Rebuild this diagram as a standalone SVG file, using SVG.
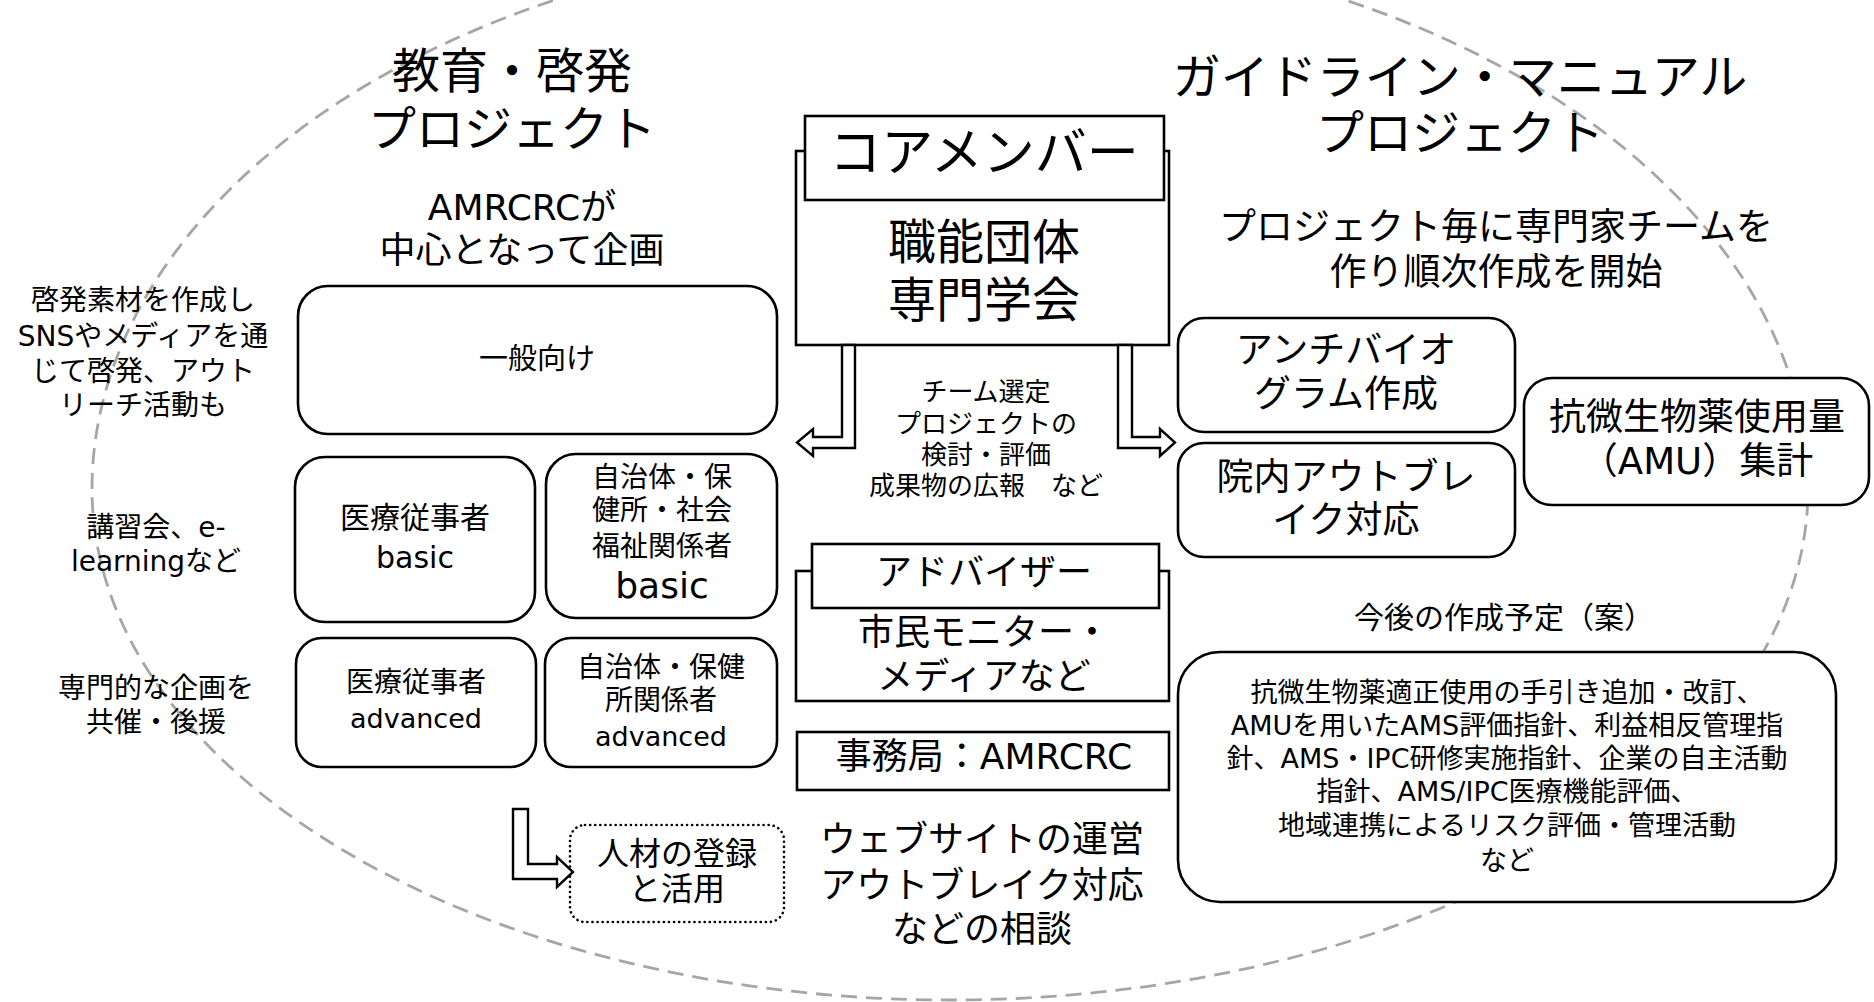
<svg xmlns="http://www.w3.org/2000/svg" width="1874" height="1002" viewBox="0 0 1874 1002">
<style>
text{font-family:"DejaVu Sans","Noto Sans CJK JP",sans-serif;fill:#000;text-anchor:middle}
.box{fill:#fff;stroke:#000;stroke-width:2.6}
.dot{fill:#fff;stroke:#000;stroke-width:2.6;stroke-dasharray:0.1 5;stroke-linecap:round}
.arr{fill:#fff;stroke:#000;stroke-width:2.4;stroke-linejoin:miter}
.ell{fill:none;stroke:#a6a6a6;stroke-width:2.8;stroke-dasharray:16 9}
.t48{font-size:48px}.t52{font-size:52px}.t37{font-size:37px}.t36{font-size:36px}.t32{font-size:32px}.t30{font-size:30px}.t29{font-size:29px}.t28{font-size:28px}.t27{font-size:27px}.t26{font-size:26px}
</style>
<rect width="1874" height="1002" fill="#fff"/>
<path class="ell" d="M 92,489 A 858,551 0 0 1 1808,489 A 858,511 0 0 1 92,489 Z"/>

<g id="title-left">
<text class="t48" x="512" y="88">教育・啓発</text>
<text class="t48" x="512" y="146">プロジェクト</text>
</g>
<g id="amrcrc-plan">
<text class="t36" x="522" y="220">AMRCRCが</text>
<text class="t36" x="522" y="263">中心となって企画</text>
</g>
<g id="note-sns">
<text class="t28" x="143" y="310">啓発素材を作成し</text>
<text class="t28" x="143" y="346">SNSやメディアを通</text>
<text class="t28" x="143" y="381">じて啓発、アウト</text>
<text class="t28" x="143" y="415">リーチ活動も</text>
</g>
<g id="note-lecture">
<text class="t28" x="156" y="537">講習会、e-</text>
<text class="t28" x="156" y="571">learningなど</text>
</g>
<g id="note-special">
<text class="t28" x="156" y="698">専門的な企画を</text>
<text class="t28" x="156" y="732">共催・後援</text>
</g>

<g id="general">
<rect class="box" x="298" y="286" width="479" height="148" rx="30"/>
<text class="t29" x="537" y="369">一般向け</text>
</g>
<g id="medical-basic">
<rect class="box" x="295" y="457" width="240" height="165" rx="30"/>
<text class="t30" x="415" y="528">医療従事者</text>
<text class="t30" x="415" y="568">basic</text>
</g>
<g id="local-basic">
<rect class="box" x="546" y="454" width="231" height="164" rx="30"/>
<text class="t28" x="662" y="487">自治体・保</text>
<text class="t28" x="662" y="520">健所・社会</text>
<text class="t28" x="662" y="556">福祉関係者</text>
<text class="t36" x="662" y="598">basic</text>
</g>
<g id="medical-advanced">
<rect class="box" x="296" y="638" width="240" height="129" rx="26"/>
<text class="t28" x="416" y="692">医療従事者</text>
<text class="t27" x="416" y="728">advanced</text>
</g>
<g id="local-advanced">
<rect class="box" x="545" y="638" width="232" height="129" rx="26"/>
<text class="t28" x="661" y="677">自治体・保健</text>
<text class="t28" x="661" y="710">所関係者</text>
<text class="t27" x="661" y="746">advanced</text>
</g>
<g id="talent">
<rect class="dot" x="570" y="825" width="214" height="97" rx="15"/>
<text class="t32" x="677" y="865">人材の登録</text>
<text class="t32" x="677" y="900">と活用</text>
</g>

<g id="core">
<rect class="box" x="796" y="151" width="373" height="194"/>
<rect class="box" x="805" y="116" width="359" height="84"/>
<text class="t52" x="984" y="171">コアメンバー</text>
<text class="t48" x="984" y="259">職能団体</text>
<text class="t48" x="984" y="317">専門学会</text>
</g>
<g id="core-roles">
<text class="t26" x="986" y="401">チーム選定</text>
<text class="t26" x="986" y="433">プロジェクトの</text>
<text class="t26" x="986" y="464">検討・評価</text>
<text class="t26" x="986" y="495">成果物の広報　など</text>
</g>
<g id="advisor">
<rect class="box" x="796" y="571" width="373" height="130"/>
<rect class="box" x="812" y="544" width="347" height="64"/>
<text class="t36" x="984" y="585">アドバイザー</text>
<text class="t36" x="984" y="645">市民モニター・</text>
<text class="t36" x="984" y="689">メディアなど</text>
</g>
<g id="secretariat">
<rect class="box" x="797" y="732" width="372" height="58"/>
<text class="t36" x="984" y="769">事務局：AMRCRC</text>
</g>
<g id="secretariat-roles">
<text class="t36" x="982" y="852">ウェブサイトの運営</text>
<text class="t36" x="982" y="898">アウトブレイク対応</text>
<text class="t36" x="982" y="942">などの相談</text>
</g>

<g id="title-right">
<text class="t48" x="1460" y="94">ガイドライン・マニュアル</text>
<text class="t48" x="1460" y="150">プロジェクト</text>
</g>
<g id="expert-team">
<text class="t37" x="1496" y="240">プロジェクト毎に専門家チームを</text>
<text class="t37" x="1496" y="285">作り順次作成を開始</text>
</g>
<g id="antibiogram">
<rect class="box" x="1178" y="318" width="337" height="114" rx="26"/>
<text class="t37" x="1346" y="363">アンチバイオ</text>
<text class="t37" x="1346" y="407">グラム作成</text>
</g>
<g id="outbreak">
<rect class="box" x="1178" y="443" width="337" height="114" rx="26"/>
<text class="t37" x="1346" y="490">院内アウトブレ</text>
<text class="t37" x="1346" y="533">イク対応</text>
</g>
<g id="amu">
<rect class="box" x="1524" y="378" width="345" height="127" rx="28"/>
<text class="t37" x="1697" y="430">抗微生物薬使用量</text>
<text class="t37" x="1697" y="474">（AMU）集計</text>
</g>
<g id="future-label">
<text class="t30" x="1504" y="628">今後の作成予定（案）</text>
</g>
<g id="future">
<rect class="box" x="1178" y="652" width="658" height="250" rx="42"/>
<text class="t27" x="1507" y="702">抗微生物薬適正使用の手引き追加・改訂、</text>
<text class="t27" x="1507" y="735">AMUを用いたAMS評価指針、利益相反管理指</text>
<text class="t27" x="1507" y="768">針、AMS・IPC研修実施指針、企業の自主活動</text>
<text class="t27" x="1507" y="801">指針、AMS/IPC医療機能評価、</text>
<text class="t27" x="1507" y="835">地域連携によるリスク評価・管理活動</text>
<text class="t27" x="1507" y="870">など</text>
</g>

<g id="connectors">
<polygon class="arr" points="842,345 842,437 813,437 813,429 797,442.5 813,456 813,448 855,448 855,345"/>
<polygon class="arr" points="1132,345 1132,437 1160,437 1160,429 1175,442.5 1160,456 1160,448 1118,448 1118,345"/>
<polygon class="arr" points="513,809 528,809 528,864 557,864 557,857 573,872 557,887 557,879 513,879"/>
</g>
</svg>
